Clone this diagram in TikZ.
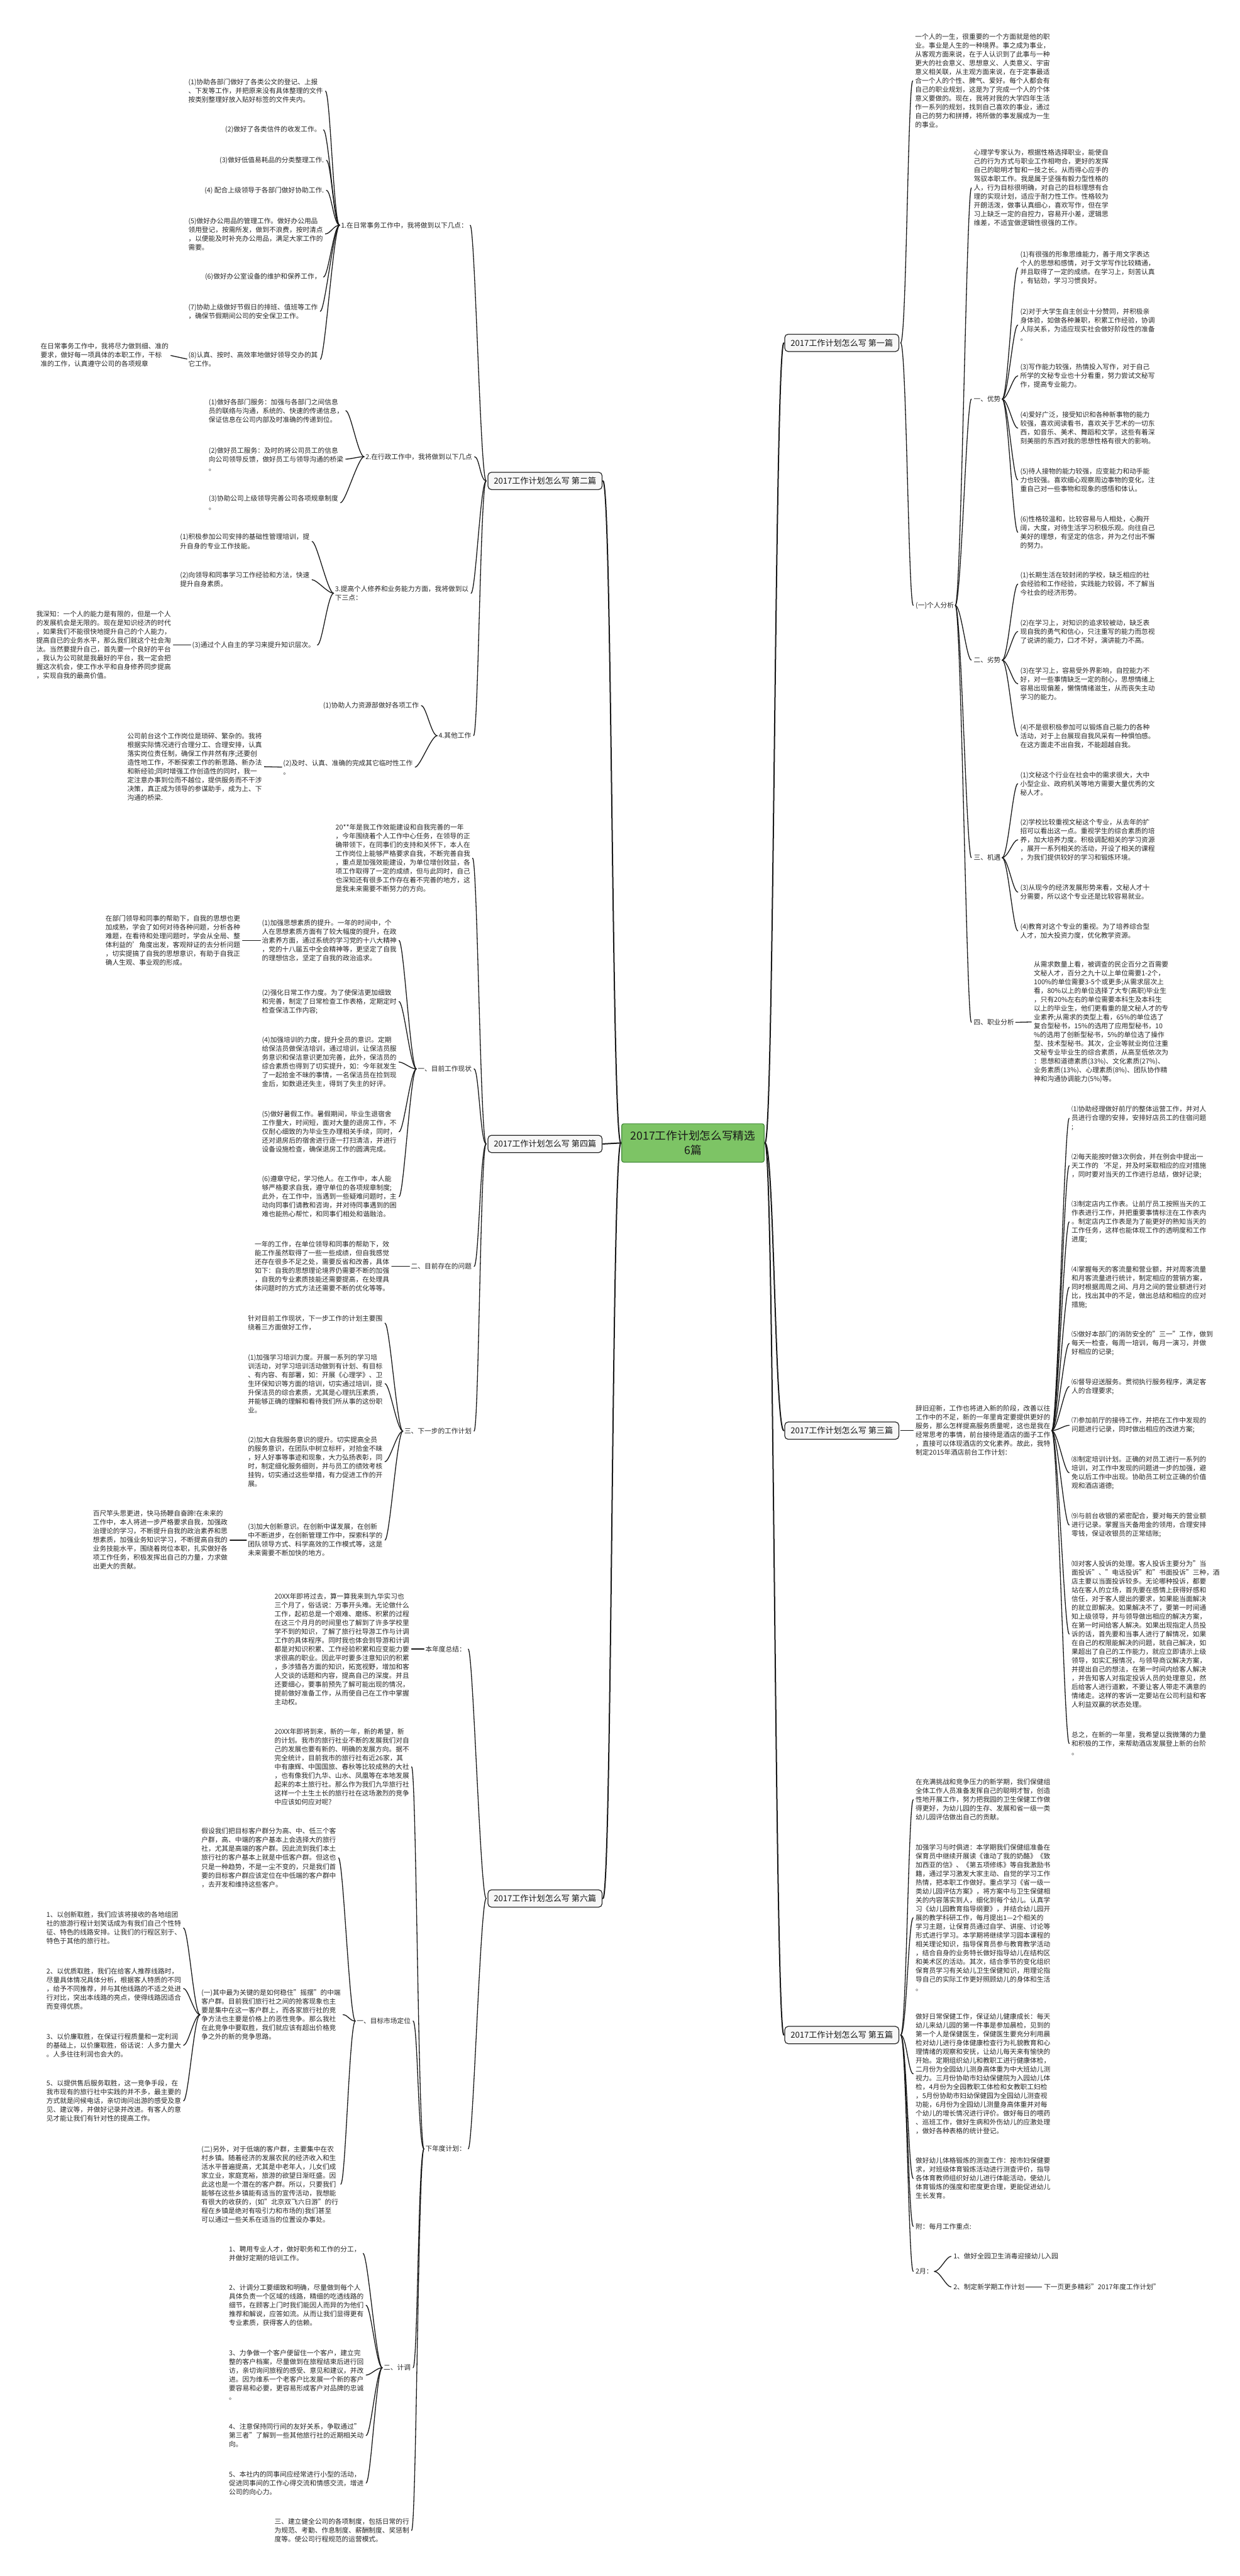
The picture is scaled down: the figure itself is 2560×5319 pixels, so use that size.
\documentclass[tikz,border=0pt]{standalone}
\usepackage{fontspec}
\setmainfont{Noto Sans CJK SC}
\definecolor{cgreen}{RGB}{125,196,101}
\definecolor{cgreenb}{RGB}{70,140,60}
\tikzset{
  txt/.style={inner sep=0pt, outer sep=0pt, align=left, font=\fontsize{13.9}{18.2}\selectfont, text=black!85},
  conn/.style={draw=black!90, line width=1.7pt, line cap=round, shorten <=3pt, shorten >=5pt},
  mconn/.style={draw=black!90, line width=2.6pt, line cap=round, shorten <=1pt, shorten >=1pt},
  mainbox/.style={draw=black!85, line width=1.6pt, rounded corners=7pt, fill=gray!6, inner xsep=12pt, inner ysep=10pt, font=\fontsize{17}{20}\selectfont, text=black!90},
  centerbox/.style={draw=cgreenb, line width=1.6pt, rounded corners=4pt, fill=cgreen, inner xsep=18pt, inner ysep=14pt, align=center, font=\fontsize{23}{30}\selectfont, text=black!90}
}
\newcommand{\rconn}[2]{\draw[conn] (#1.east) .. controls +(15,0) and +(-15,0) .. (#2.west);}
\newcommand{\lconn}[2]{\draw[conn] (#1.west) .. controls +(-15,0) and +(15,0) .. (#2.east);}
\begin{document}
\begin{tikzpicture}[x=1pt,y=-1pt]
\fill[white] (0,0) rectangle (2560,5319);
\useasboundingbox (0,0) rectangle (2560,5319);

% ---------------- centre and main boxes
\node[centerbox] (C) at (1431,2360) {2017工作计划怎么写精选\\6篇};
\node[mainbox, anchor=east] (B1) at (1857,708) {2017工作计划怎么写 第一篇};
\node[mainbox, anchor=east] (B3) at (1857,2954) {2017工作计划怎么写 第三篇};
\node[mainbox, anchor=east] (B5) at (1857,4202) {2017工作计划怎么写 第五篇};
\node[mainbox, anchor=west] (B2) at (1007,993) {2017工作计划怎么写 第二篇};
\node[mainbox, anchor=west] (B4) at (1007,2362) {2017工作计划怎么写 第四篇};
\node[mainbox, anchor=west] (B6) at (1007,3920) {2017工作计划怎么写 第六篇};
\foreach \b in {B1,B3,B5} \draw[mconn] (C.east) .. controls +(20,0) and +(-20,0) .. (\b.west);
\foreach \b in {B2,B4,B6} \draw[mconn] (C.west) .. controls +(-20,0) and +(20,0) .. (\b.east);

% ================= 第一篇
\node[txt,anchor=west] (a1) at (1890,167) {一个人的一生，很重要的一个方面就是他的职\\业。事业是人生的一种境界。事之成为事业，\\从客观方面来说，在于人认识到了此事与一种\\更大的社会意义、思想意义、人类意义、宇宙\\意义相关联，从主观方面来说，在于定事最适\\合一个人的个性、脾气、爱好。每个人都会有\\自己的职业规划，这是为了完成一个人的个体\\意义要做的。现在，我将对我的大学四年生活\\作一系列的规划，找到自己喜欢的事业，通过\\自己的努力和拼搏，将所做的事发展成为一生\\的事业。};
\node[txt,anchor=west] (a2) at (1891,1250) {(一)个人分析};
\rconn{B1}{a1}\rconn{B1}{a2}

\node[txt,anchor=west] (p0) at (2011,388) {心理学专家认为，根据性格选择职业，能使自\\己的行为方式与职业工作相吻合，更好的发挥\\自己的聪明才智和一技之长。从而得心应手的\\驾驭本职工作。我是属于坚强有毅力型性格的\\人，行为目标很明确，对自己的目标理想有合\\理的实现计划，适应于耐力性工作。性格较为\\开朗活泼，做事认真细心，喜欢写作，但在学\\习上缺乏一定的自控力，容易开小差，逻辑思\\维差，不适宜做逻辑性很强的工作。};
\node[txt,anchor=west] (y1) at (2011,824) {一、优势};
\node[txt,anchor=west] (y2) at (2011,1363) {二、劣势};
\node[txt,anchor=west] (y3) at (2011,1771) {三、机遇};
\node[txt,anchor=west] (y4) at (2011,2111) {四、职业分析};
\foreach \n in {p0,y1,y2,y3,y4} {\rconn{a2}{\n}}

\node[txt,anchor=west] (r11) at (2107,553) {(1)有很强的形象思维能力，善于用文字表达\\个人的思想和感情，对于文学写作比较精通，\\并且取得了一定的成绩。在学习上，刻苦认真\\，有钻劲，学习习惯良好。};
\node[txt,anchor=west] (r12) at (2107,671) {(2)对于大学生自主创业十分赞同，并积极亲\\身体验，如做各种兼职，积累工作经验，协调\\人际关系，为适应现实社会做好阶段性的准备\\。};
\node[txt,anchor=west] (r13) at (2107,776) {(3)写作能力较强，热情投入写作，对于自己\\所学的文秘专业也十分看重，努力尝试文秘写\\作，提高专业能力。};
\node[txt,anchor=west] (r14) at (2107,884) {(4)爱好广泛，接受知识和各种新事物的能力\\较强，喜欢阅读看书，喜欢关于艺术的一切东\\西，如音乐、美术、舞蹈和文学，这些有着深\\刻美丽的东西对我的思想性格有很大的影响。};
\node[txt,anchor=west] (r15) at (2107,991) {(5)待人接物的能力较强，应变能力和动手能\\力也较强。喜欢细心观察周边事物的变化，注\\重自己对一些事物和现象的感悟和体认。};
\node[txt,anchor=west] (r16) at (2107,1099) {(6)性格较温和，比较容易与人相处，心胸开\\阔，大度，对待生活学习积极乐观。向往自己\\美好的理想，有坚定的信念，并为之付出不懈\\的努力。};
\foreach \n in {r11,r12,r13,r14,r15,r16} {\rconn{y1}{\n}}

\node[txt,anchor=west] (r21) at (2107,1206) {(1)长期生活在较封闭的学校，缺乏相应的社\\会经验和工作经验，实践能力较弱，不了解当\\今社会的经济形势。};
\node[txt,anchor=west] (r22) at (2107,1304) {(2)在学习上，对知识的追求较被动，缺乏表\\现自我的勇气和信心，只注重写的能力而忽视\\了说讲的能力，口才不好，演讲能力不高。};
\node[txt,anchor=west] (r23) at (2107,1412) {(3)在学习上，容易受外界影响，自控能力不\\好，对一些事情缺乏一定的耐心，思想情绪上\\容易出现偏差，懒惰情绪滋生，从而丧失主动\\学习的能力。};
\node[txt,anchor=west] (r24) at (2107,1520) {(4)不是很积极参加可以锻炼自己能力的各种\\活动，对于上台展现自我风采有一种惧怕感。\\在这方面走不出自我，不能超越自我。};
\foreach \n in {r21,r22,r23,r24} {\rconn{y2}{\n}}

\node[txt,anchor=west] (r31) at (2107,1618) {(1)文秘这个行业在社会中的需求很大，大中\\小型企业、政府机关等地方需要大量优秀的文\\秘人才。};
\node[txt,anchor=west] (r32) at (2107,1734) {(2)学校比较重视文秘这个专业，从去年的扩\\招可以看出这一点。重视学生的综合素质的培\\养，加大培养力度。积极调配相关的学习资源\\，展开一系列相关的活动，开设了相关的课程\\，为我们提供较好的学习和锻炼环境。};
\node[txt,anchor=west] (r33) at (2107,1842) {(3)从现今的经济发展形势来看，文秘人才十\\分需要，所以这个专业还是比较容易就业。};
\node[txt,anchor=west] (r34) at (2107,1922) {(4)教育对这个专业的重视。为了培养综合型\\人才，加大投资力度，优化教学资源。};
\foreach \n in {r31,r32,r33,r34} {\rconn{y3}{\n}}

\node[txt,anchor=west] (r41) at (2135,2110) {从需求数量上看，被调查的民企百分之百需要\\文秘人才，百分之九十以上单位需要1-2个，\\100\%的单位需要3-5个或更多;从需求层次上\\看，80\%以上的单位选择了大专(高职)毕业生\\，只有20\%左右的单位需要本科生及本科生\\以上的毕业生，他们更看重的是文秘人才的专\\业素养;从需求的类型上看，65\%的单位选了\\复合型秘书，15\%的选用了应用型秘书，10\\\%的选用了创新型秘书，5\%的单位选了操作\\型、技术型秘书。其次，企业等就业岗位注重\\文秘专业毕业生的综合素质，从高至低依次为\\：思想和道德素质(33\%)、文化素质(27\%)、\\业务素质(13\%)、心理素质(8\%)、团队协作精\\神和沟通协调能力(5\%)等。};
\draw[conn] (y4.east) -- (r41.west);

% ================= 第三篇
\node[txt,anchor=west] (d3) at (1891,2954) {辞旧迎新，工作也将进入新的阶段，改善以往\\工作中的不足，新的一年里肯定要提供更好的\\服务，那么怎样提高服务质量呢，这也是我在\\经常思考的事情，前台接待是酒店的面子工作\\，直接可以体现酒店的文化素养。故此，我特\\制定2015年酒店前台工作计划：};
\draw[conn] (B3.east) -- (d3.west);
\node[txt,anchor=west] (s1) at (2213,2309) {⑴协助经理做好前厅的整体运营工作，并对人\\员进行合理的安排，安排好店员工的住宿问题\\;};
\node[txt,anchor=west] (s2) at (2213,2407) {⑵每天能按时做3次例会，并在例会中提出一\\天工作的`不足，并及时采取相应的应对措施\\，同时要对当天的工作进行总结，做好记录;};
\node[txt,anchor=west] (s3) at (2213,2523) {⑶制定店内工作表。让前厅员工按照当天的工\\作表进行工作，并把重要事情标注在工作表内\\。制定店内工作表是为了能更好的熟知当天的\\工作任务，这样也能体现工作的透明度和工作\\进度;};
\node[txt,anchor=west] (s4) at (2213,2658) {⑷掌握每天的客流量和营业额，并对周客流量\\和月客流量进行统计，制定相应的营销方案，\\同时根据周周之间、月月之间的营业额进行对\\比，找出其中的不足，做出总结和相应的应对\\措施;};
\node[txt,anchor=west] (s5) at (2213,2774) {⑸做好本部门的消防安全的"三一"工作，做到\\每天一检查，每周一培训，每月一演习，并做\\好相应的记录;};
\node[txt,anchor=west] (s6) at (2213,2863) {⑹督导迎送服务。贯彻执行服务程序，满足客\\人的合理要求;};
\node[txt,anchor=west] (s7) at (2213,2943) {⑺参加前厅的接待工作，并把在工作中发现的\\问题进行记录，同时做出相应的改进方案;};
\node[txt,anchor=west] (s8) at (2213,3041) {⑻制定培训计划。正确的对员工进行一系列的\\培训，对工作中发现的问题进一步的加强，避\\免以后工作中出现。协助员工树立正确的价值\\观和酒店道德;};
\node[txt,anchor=west] (s9) at (2213,3149) {⑼与前台收银的紧密配合，要对每天的营业额\\进行记录。掌握当天备用金的领用，合理安排\\零钱，保证收银员的正常结账;};
\node[txt,anchor=west] (s10) at (2213,3374) {⑽对客人投诉的处理。客人投诉主要分为"当\\面投诉"、"电话投诉"和"书面投诉"三种，酒\\店主要以当面投诉较多。无论哪种投诉，都要\\站在客人的立场，首先要在感情上获得好感和\\信任，对于客人提出的要求，如果能当面解决\\的就立即解决。如果解决不了，要第一时间通\\知上级领导，并与领导做出相应的解决方案，\\在第一时间给客人解决。如果出现指定人员投\\诉的话，首先要和当事人进行了解情况，如果\\在自己的权限能解决的问题，就自己解决，如\\果超出了自己的工作能力，就应立即请示上级\\领导，如实汇报情况，与领导商议解决方案，\\并提出自己的想法，在第一时间内给客人解决\\，并告知客人对指定投诉人员的处理意见，然\\后给客人进行道歉，不要让客人带走不满意的\\情绪走。这样的客诉一定要站在公司利益和客\\人利益双赢的状态处理。};
\node[txt,anchor=west] (s11) at (2213,3600) {总之，在新的一年里，我希望以我微薄的力量\\和积极的工作，来帮助酒店发展登上新的台阶\\。};
\foreach \n in {s1,s2,s3,s4,s5,s6,s7,s8,s9,s10,s11} {\rconn{d3}{\n}}

% ================= 第五篇
\node[txt,anchor=west] (f1) at (1891,3716) {在充满挑战和竞争压力的新学期，我们保健组\\全体工作人员准备发挥自己的聪明才智，创造\\性地开展工作，努力把我园的卫生保健工作做\\得更好，为幼儿园的生存、发展和省一级一类\\幼儿园评估做出自己的贡献。};
\node[txt,anchor=west] (f2) at (1891,3960) {加强学习与时俱进：本学期我们保健组准备在\\保育员中继续开展读《谁动了我的奶酪》《致\\加西亚的信》、《第五项修练》等自我激励书\\籍，通过学习激发大家主动、自觉的学习工作\\热情，把本职工作做好。重点学习《省一级一\\类幼儿园评估方案》，将方案中与卫生保健相\\关的内容落实到人，细化到每个幼儿。认真学\\习《幼儿园教育指导纲要》，并结合幼儿园开\\展的教学科研工作，每月提出1—2个相关的\\学习主题，让保育员通过自学、讲座、讨论等\\形式进行学习。本学期将继续学习园本课程的\\相关理论知识，指导保育员参与教育教学活动\\，结合自身的业务特长做好指导幼儿在结构区\\和美术区的活动。其次，结合季节的变化组织\\保育员学习有关幼儿卫生保健知识，用理论指\\导自己的实际工作更好照顾幼儿的身体和生活\\。};
\node[txt,anchor=west] (f3) at (1891,4282) {做好日常保健工作，保证幼儿健康成长：每天\\幼儿来幼儿园的第一件事是参加晨检，见到的\\第一个人是保健医生，保健医生要充分利用晨\\检对幼儿进行身体健康检查行为礼貌教育和心\\理情绪的观察和安抚，让幼儿每天来有愉快的\\开始。定期组织幼儿和教职工进行健康体检，\\二月份为全园幼儿测身高体重为中大班幼儿测\\视力。三月份协助市妇幼保健院为入园幼儿体\\检，4月份为全园教职工体检和女教职工妇检\\，5月份协助市妇幼保健园为全园幼儿测查视\\功能，6月份为全园幼儿测量身高体重并对每\\个幼儿的增长情况进行评价。做好每日的喂药\\、巡班工作，做好生病和外伤幼儿的应激处理\\，做好各种表格的统计登记。};
\node[txt,anchor=west] (f4) at (1891,4498) {做好幼儿体格锻炼的测查工作：按市妇保健要\\求，对班级体育锻炼活动进行测查评价，指导\\各体育教师组织好幼儿进行体能活动，使幼儿\\体育锻炼的强度和密度更合理，更能促进幼儿\\生长发育。};
\node[txt,anchor=west] (f5) at (1891,4597) {附：每月工作重点:};
\node[txt,anchor=west] (f6) at (1891,4690) {2月：};
\foreach \n in {f1,f2,f3,f4,f5,f6} {\rconn{B5}{\n}}
\node[txt,anchor=west] (g1) at (1969,4659) {1、做好全园卫生消毒迎接幼儿入园};
\node[txt,anchor=west] (g2) at (1969,4722) {2、制定新学期工作计划};
\rconn{f6}{g1}\rconn{f6}{g2}
\node[txt,anchor=west] (g3) at (2156,4722) {下一页更多精彩"2017年度工作计划"};
\draw[conn] (g2.east) -- (g3.west);

% ================= 第二篇
\node[txt,anchor=east] (L1) at (966,465) {1.在日常事务工作中，我将做到以下几点：};
\node[txt,anchor=east] (L2) at (975,943) {2.在行政工作中，我将做到以下几点};
\node[txt,anchor=west] (L3) at (692,1225) {3.提高个人修养和业务能力方面，我将做到以\\下三点：};
\node[txt,anchor=east] (L4) at (973,1519) {4.其他工作};
\foreach \n in {L1,L2,L3,L4} {\lconn{B2}{\n}}

\node[txt,anchor=west] (l11) at (389,188) {(1)协助各部门做好了各类公文的登记、上报\\、下发等工作，并把原来没有具体整理的文件\\按类别整理好放入贴好标签的文件夹内。};
\node[txt,anchor=east] (l12) at (663,268) {(2)做好了各类信件的收发工作。};
\node[txt,anchor=east] (l13) at (669,331) {(3)做好低值易耗品的分类整理工作.};
\node[txt,anchor=east] (l14) at (669,393) {(4) 配合上级领导于各部门做好协助工作.};
\node[txt,anchor=west] (l15) at (389,483) {(5)做好办公用品的管理工作。做好办公用品\\领用登记，按需所发，做到不浪费，按时清点\\，以便能及时补充办公用品，满足大家工作的\\需要。};
\node[txt,anchor=east] (l16) at (663,572) {(6)做好办公室设备的维护和保养工作，};
\node[txt,anchor=west] (l17) at (389,643) {(7)协助上级做好节假日的排班、值班等工作\\，确保节假期间公司的安全保卫工作。};
\node[txt,anchor=west] (l18) at (389,742) {(8)认真、按时、高效率地做好领导交办的其\\它工作。};
\foreach \n in {l11,l12,l13,l14,l15,l16,l17,l18} {\lconn{L1}{\n}}
\node[txt,anchor=east] (l181) at (348,733) {在日常事务工作中，我将尽力做到细、准的\\要求，做好每一项具体的本职工作，干标\\准的工作，认真遵守公司的各项规章};
\draw[conn] (l18.west) -- (l181.east);

\node[txt,anchor=west] (l21) at (431,848) {(1)做好各部门服务：加强与各部门之间信息\\员的联络与沟通，系统的、快速的传递信息，\\保证信息在公司内部及时准确的传递到位。};
\node[txt,anchor=west] (l22) at (431,948) {(2)做好员工服务：及时的将公司员工的信息\\向公司领导反馈，做好员工与领导沟通的桥梁\\。};
\node[txt,anchor=west] (l23) at (431,1038) {(3)协助公司上级领导完善公司各项规章制度\\。};
\foreach \n in {l21,l22,l23} {\lconn{L2}{\n}}

\node[txt,anchor=west] (l31) at (372,1118) {(1)积极参加公司安排的基础性管理培训，提\\升自身的专业工作技能。};
\node[txt,anchor=west] (l32) at (372,1197) {(2)向领导和同事学习工作经验和方法，快速\\提升自身素质。};
\node[txt,anchor=west] (l33) at (397,1332) {(3)通过个人自主的学习来提升知识层次。};
\foreach \n in {l31,l32,l33} {\lconn{L3}{\n}}
\node[txt,anchor=west] (l331) at (75,1332) {我深知：一个人的能力是有限的，但是一个人\\的发展机会是无限的。现在是知识经济的时代\\，如果我们不能很快地提升自己的个人能力，\\提高自已的业务水平，那么我们就这个社会淘\\汰。当然要提升自己，首先要一个良好的平台\\，我认为公司就是我最好的平台，我一定会把\\握这次机会，使工作水平和自身修养同步提高\\，实现自我的最高价值。};
\draw[conn] (l33.west) -- (l331.east);

\node[txt,anchor=east] (l41) at (865,1457) {(1)协助人力资源部做好各项工作};
\node[txt,anchor=west] (l42) at (585,1584) {(2)及时、认真、准确的完成其它临时性工作\\。};
\lconn{L4}{l41}\lconn{L4}{l42}
\node[txt,anchor=west] (l421) at (263,1583) {公司前台这个工作岗位是琐碎、繁杂的。我将\\根据实际情况进行合理分工、合理安排，认真\\落实岗位责任制，确保工作井然有序;还要创\\造性地工作，不断探索工作的新思路、新办法\\和新经验;同时增强工作创造性的同时，我一\\定注意办事到位而不越位，提供服务而不干涉\\决策，真正成为领导的参谋助手，成为上、下\\沟通的桥梁.};
\draw[conn] (l42.west) -- (l421.east);

% ================= 第四篇
\node[txt,anchor=west] (M0) at (693,1772) {20**年是我工作效能建设和自我完善的一年\\，今年围绕着个人工作中心任务，在领导的正\\确带领下，在同事们的支持和关怀下，本人在\\工作岗位上能够严格要求自我，不断完善自我\\，重点是加强效能建设，为单位增创效益，各\\项工作取得了一定的成绩，但与此同时，自己\\也深知还有很多工作存在着不完善的地方，这\\是我未来需要不断努力的方向。};
\node[txt,anchor=east] (M1) at (974,2207) {一、目前工作现状};
\node[txt,anchor=east] (M2) at (974,2615) {二、目前存在的问题};
\node[txt,anchor=east] (M3) at (974,2955) {三、下一步的工作计划};
\foreach \n in {M0,M1,M2,M3} {\lconn{B4}{\n}}

\node[txt,anchor=west] (m11) at (541,1942) {(1)加强思想素质的提升。一年的时间中，个\\人在思想素质方面有了较大幅度的提升，在政\\治素养方面，通过系统的学习党的十八大精神\\，党的十八届五中全会精神等，更坚定了自我\\的理想信念，坚定了自我的政治追求。};
\node[txt,anchor=west] (m12) at (541,2068) {(2)强化日常工作力度。为了使保洁更加细致\\和完善，制定了日常检查工作表格，定期定时\\检查保洁工作内容;};
\node[txt,anchor=west] (m14) at (541,2193) {(4)加强培训的力度，提升全员的意识。定期\\给保洁员做保洁培训，通过培训，让保洁员服\\务意识和保洁意识更加完善，此外，保洁员的\\综合素质也得到了切实提升，如：今年就发生\\了一起拾金不昧的事情，一名保洁员在捡到现\\金后，如数退还失主，得到了失主的好评。};
\node[txt,anchor=west] (m15) at (541,2337) {(5)做好暑假工作。暑假期间，毕业生退宿舍\\工作量大，时间短，面对大量的退房工作，不\\仅耐心细致的为毕业生办理相关手续，同时，\\还对退房后的宿舍进行逐一打扫清洁，并进行\\设备设施检查，确保退房工作的圆满完成。};
\node[txt,anchor=west] (m16) at (541,2471) {(6)遵章守纪，学习他人。在工作中，本人能\\够严格要求自我，遵守单位的各项规章制度;\\此外，在工作中，当遇到一些疑难问题时，主\\动向同事们请教和咨询，并对待同事遇到的困\\难也能热心帮忙，和同事们相处和谐融洽。};
\foreach \n in {m11,m12,m14,m15,m16} {\lconn{M1}{\n}}
\node[txt,anchor=west] (m111) at (218,1942) {在部门领导和同事的帮助下，自我的思想也更\\加成熟，学会了如何对待各种问题，分析各种\\难题，在看待和处理问题时，学会从全局、整\\体利益的'角度出发，客观辩证的去分析问题\\，切实提搞了自我的思想意识，有助于自我正\\确人生观、事业观的形成。};
\draw[conn] (m11.west) -- (m111.east);

\node[txt,anchor=west] (m21) at (526,2615) {一年的工作，在单位领导和同事的帮助下，效\\能工作虽然取得了一些一些成绩，但自我感觉\\还存在很多不足之处，需要反省和改善，具体\\如下：自我的思想理论境界仍需要不断的加强\\，自我的专业素质技能还需要提高，在处理具\\体问题时的方式方法还需要不断的优化等等。};
\draw[conn] (M2.west) -- (m21.east);

\node[txt,anchor=west] (m30) at (512,2732) {针对目前工作现状，下一步工作的计划主要围\\绕着三方面做好工作，};
\node[txt,anchor=west] (m31) at (512,2857) {(1)加强学习培训力度。开展一系列的学习培\\训活动，对学习培训活动做到有计划、有目标\\、有内容、有部署，如：开展《心理学》、卫\\生环保知识等方面的培训，切实通过培训，提\\升保洁员的综合素质，尤其是心理抗压素质，\\并能够正确的理解和看待我们所从事的这份职\\业。};
\node[txt,anchor=west] (m32) at (512,3018) {(2)加大自我服务意识的提升。切实提高全员\\的服务意识，在团队中树立标杆，对拾金不昧\\，好人好事等事迹和现象，大力弘扬表彰，同\\时，制定细化服务细则，并与员工的绩效考核\\挂钩，切实通过这些举措，有力促进工作的开\\展。};
\node[txt,anchor=west] (m33) at (512,3180) {(3)加大创新意识。在创新中谋发展，在创新\\中不断进步，在创新管理工作中，探索科学的\\团队领导方式、科学高效的工作模式等，这是\\未来需要不断加快的地方。};
\foreach \n in {m30,m31,m32,m33} {\lconn{M3}{\n}}
\node[txt,anchor=west] (m331) at (192,3180) {百尺竿头思更进，快马扬鞭自奋蹄!在未来的\\工作中，本人将进一步严格要求自我，加强政\\治理论的学习，不断提升自我的政治素养和思\\想素质，加强业务知识学习，不断提高自我的\\业务技能水平，围绕着岗位本职，扎实做好各\\项工作任务，积极发挥出自己的力量，力求做\\出更大的贡献。};
\draw[conn] (m33.west) -- (m331.east);

% ================= 第六篇
\node[txt,anchor=east] (N1) at (962,3405) {本年度总结：};
\node[txt,anchor=east] (N2) at (962,4437) {下年度计划：};
\lconn{B6}{N1}\lconn{B6}{N2}
\node[txt,anchor=west] (n11) at (567,3405) {20XX年即将过去，算一算我来到九华实习也\\三个月了，俗话说：万事开头难。无论做什么\\工作，起初总是一个艰难、磨练、积累的过程\\在这三个月月的时间里也了解到了许多学校里\\学不到的知识，了解了旅行社导游工作与计调\\工作的具体程序。同时我也体会到导游和计调\\都是对知识积累、工作经验积累和应变能力要\\求很高的职业。因此平时要多注意知识的积累\\，多涉猎各方面的知识，拓宽视野，增加和客\\人交谈的话题和内容，提高自己的深度。并且\\还要细心，要事前预先了解可能出现的情况，\\提前做好准备工作，从而使自己在工作中掌握\\主动权。};
\draw[conn] (N1.west) -- (n11.east);

\node[txt,anchor=west] (n20) at (567,3648) {20XX年即将到来，新的一年，新的希望，新\\的计划。我市的旅行社业不断的发展我们对自\\己的发展也要有新的、明确的发展方向。据不\\完全统计，目前我市的旅行社有近26家，其\\中有康辉、中国国旅、春秋等比较成熟的大社\\，也有像我们九华、山水、凤凰等在本地发展\\起来的本土旅行社。那么作为我们九华旅行社\\这样一个土生土长的旅行社在这场激烈的竞争\\中应该如何应对呢?};
\node[txt,anchor=east] (n21) at (848,4173) {一、目标市场定位};
\node[txt,anchor=east] (n22) at (848,4889) {二、计调};
\node[txt,anchor=west] (n23) at (567,5225) {三、建立健全公司的各项制度，包括日常的行\\为规范、考勤、作息制度、薪酬制度、奖惩制\\度等。使公司行程规范的运营模式。};
\foreach \n in {n20,n21,n22,n23} {\lconn{N2}{\n}}

\node[txt,anchor=west] (o1) at (416,3836) {假设我们把目标客户群分为高、中、低三个客\\户群，高、中端的客户基本上会选择大的旅行\\社，尤其是高端的客户群。因此流到我们本土\\旅行社的客户基本上就是中低客户群。但这也\\只是一种趋势，不是一尘不变的，只是我们首\\要的目标客户群应该定位在中低端的客户群中\\，去开发和维持这些客户。};
\node[txt,anchor=west] (o2) at (416,4160) {(一)其中最为关键的是如何稳住"摇摆"的中端\\客户群。目前我们旅行社之间的抢客现象也主\\要是集中在这一客户群上，而各家旅行社的竞\\争方法也主要是价格上的恶性竞争。那么我社\\在此竞争中要取胜，我们就应该有超出价格竞\\争之外的新的竞争思路。};
\node[txt,anchor=west] (o3) at (416,4510) {(二)另外，对于低端的客户群，主要集中在农\\村乡镇。随着经济的发展农民的经济收入和生\\活水平普遍提高，尤其是中老年人，儿女们成\\家立业，家庭宽裕，旅游的欲望日渐旺盛。因\\此这也是一个潜在的客户群。所以，只要我们\\能够在这些乡镇能有适当的宣传活动，我想能\\有很大的收获的，(如"北京双飞六日游"的行\\程在乡镇是绝对有吸引力和市场的)我们甚至\\可以通过一些关系在适当的位置设办事处。};
\foreach \n in {o1,o2,o3} {\lconn{n21}{\n}}

\node[txt,anchor=west] (q1) at (96,3981) {1、以创新取胜，我们应该将接收的各地组团\\社的旅游行程计划笑话成为有我们自己个性特\\征、特色的线路安排。让我们的行程区别于、\\特色于其他的旅行社。};
\node[txt,anchor=west] (q2) at (96,4106) {2、以优质取胜，我们在给客人推荐线路时，\\尽量具体情况具体分析，根据客人特质的不同\\，给予不同推荐，并与其他线路的不适之处进\\行对比，突出本线路的亮点，使得线路因适合\\而变得优质。};
\node[txt,anchor=west] (q3) at (96,4223) {3、以价廉取胜，在保证行程质量和一定利润\\的基础上，以价廉取胜，俗话说：人多力量大\\。人多往往利润也会大的。};
\node[txt,anchor=west] (q5) at (96,4338) {5、以提供售后服务取胜，这一竞争手段，在\\我市现有的旅行社中实践的并不多，最主要的\\方式就是问候电话，亲切询问出游的感受及意\\见、建议等，并做好记录并改进。有客人的意\\见才能让我们有针对性的提高工作。};
\foreach \n in {q1,q2,q3,q5} {\lconn{o2}{\n}}

\node[txt,anchor=west] (t1) at (473,4653) {1、聘用专业人才，做好职务和工作的分工，\\并做好定期的培训工作。};
\node[txt,anchor=west] (t2) at (473,4760) {2、计调分工要细致和明确，尽量做到每个人\\具体负责一个区域的线路，精细的吃透线路的\\细节，在顾客上门时我们能因人而异的为他们\\推荐和解说，应答如流。从而让我们显得更有\\专业素质，获得客人的信赖。};
\node[txt,anchor=west] (t3) at (473,4904) {3、力争做一个客户便留住一个客户，建立完\\整的客户档案，尽量做到在旅程结束后进行回\\访，亲切询问旅程的感受、意见和建议，并改\\进。因为维系一个老客户比发展一个新的客户\\要容易和必要，更容易形成客户对品牌的忠诚\\。};
\node[txt,anchor=west] (t4) at (473,5029) {4、注意保持同行间的友好关系，争取通过"\\第三者"了解到一些其他旅行社的近期相关动\\向。};
\node[txt,anchor=west] (t5) at (473,5127) {5、本社内的同事间应经常进行小型的活动，\\促进同事间的工作心得交流和情感交流，增进\\公司的向心力。};
\foreach \n in {t1,t2,t3,t4,t5} {\lconn{n22}{\n}}

\end{tikzpicture}
\end{document}
